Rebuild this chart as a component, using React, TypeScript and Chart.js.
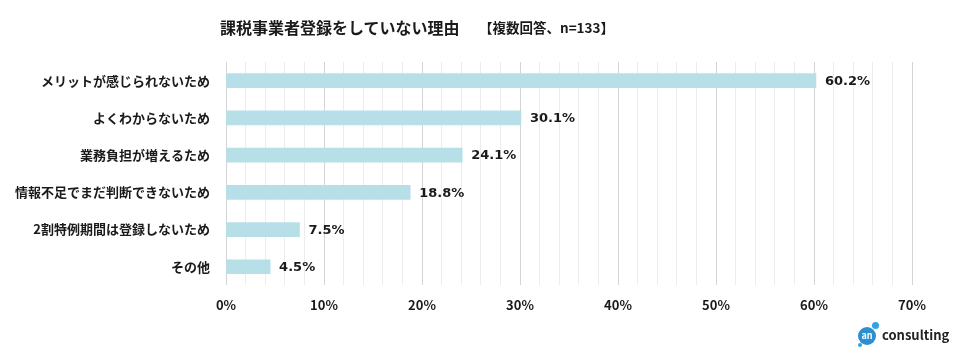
import React, { useEffect, useRef } from "react";
import { Chart, registerables } from "chart.js";

Chart.register(...registerables);

const categories = [
  "メリットが感じられないため",
  "よくわからないため",
  "業務負担が増えるため",
  "情報不足でまだ判断できないため",
  "2割特例期間は登録しないため",
  "その他",
];
const values = [60.2, 30.1, 24.1, 18.8, 7.5, 4.5];
const titleText = "課税事業者登録をしていない理由";
const subtitleText = "【複数回答、n=133】";
const FONT = "'Noto Sans CJK JP', 'Noto Sans', sans-serif";

const labelPlugin = {
  id: "valueLabels",
  afterDatasetsDraw(chart: any) {
    const ctx = chart.ctx;
    const meta = chart.getDatasetMeta(0);
    ctx.save();
    ctx.font = `bold 13px 'DejaVu Sans', sans-serif`;
    ctx.fillStyle = "#1a1a1a";
    ctx.textAlign = "left";
    ctx.textBaseline = "middle";
    meta.data.forEach((bar: any, i: number) => {
      ctx.fillText(values[i].toFixed(1) + "%", bar.x + 9, bar.y + 1);
    });
    ctx.restore();
  },
};

export default function App() {
  const ref = useRef<HTMLCanvasElement>(null);
  useEffect(() => {
    document.body.style.margin = "0";
    const chart = new Chart(ref.current!, {
      type: "bar",
      data: {
        labels: categories,
        datasets: [
          {
            data: values,
            backgroundColor: "#b7dfe8",
            barThickness: 14,
          },
        ],
      },
      options: {
        indexAxis: "y",
        animation: false,
        responsive: false,
        maintainAspectRatio: false,
        layout: { padding: { top: 62, right: 50, bottom: 33, left: 0 } },
        plugins: { legend: { display: false }, tooltip: { enabled: false } },
        scales: {
          x: {
            min: 0,
            max: 70,
            ticks: {
              stepSize: 2,
              autoSkip: false,
              maxRotation: 0,
              padding: 12,
              color: "#1a1a1a",
              font: { family: FONT, size: 13, weight: "bold" },
              callback: (v: any) => (Number(v) % 10 === 0 ? v + "%" : ""),
            },
            grid: {
              drawTicks: false,
              color: (c: any) =>
                c.tick && Math.round(c.tick.value) % 10 === 0 ? "#d4d4d4" : "#ececec",
              lineWidth: 1,
            },
            border: { display: false },
          },
          y: {
            afterFit: (s: any) => {
              s.width = 226;
            },
            ticks: {
              padding: 16,
              color: "#1a1a1a",
              font: { family: FONT, size: 13, weight: "bold" },
            },
            grid: { display: false, drawTicks: false },
            border: { display: false },
          },
        },
      },
      plugins: [labelPlugin],
    });
    return () => chart.destroy();
  }, []);

  return (
    <div style={{ position: "relative", width: 962, height: 358, background: "#fff", fontFamily: FONT }}>
      <canvas ref={ref} width={962} height={358} style={{ position: "absolute", left: 0, top: 0 }} />
      <div style={{ position: "absolute", left: 220, top: 15, fontSize: 16, fontWeight: "bold", color: "#1a1a1a", whiteSpace: "nowrap", lineHeight: "24px" }}>
        {titleText}
      </div>
      <div style={{ position: "absolute", left: 479, top: 17, fontSize: 13.5, fontWeight: "bold", color: "#1a1a1a", whiteSpace: "nowrap", lineHeight: "20px" }}>
        {subtitleText}
      </div>
      <div style={{ position: "absolute", left: 858, top: 327, width: 18, height: 18, borderRadius: 9, background: "#2c8fd0", color: "#fff", fontSize: 9, fontWeight: "bold", textAlign: "center", lineHeight: "17px" }}>
        an
      </div>
      <div style={{ position: "absolute", left: 872, top: 322, width: 7, height: 7, borderRadius: 4, background: "#2fa4de" }} />
      <div style={{ position: "absolute", left: 858, top: 343, width: 4, height: 4, borderRadius: 2, background: "#2fa4de" }} />
      <div style={{ position: "absolute", left: 882, top: 326, fontSize: 13, fontWeight: "bold", color: "#222", whiteSpace: "nowrap", lineHeight: "18px" }}>
        consulting
      </div>
    </div>
  );
}
